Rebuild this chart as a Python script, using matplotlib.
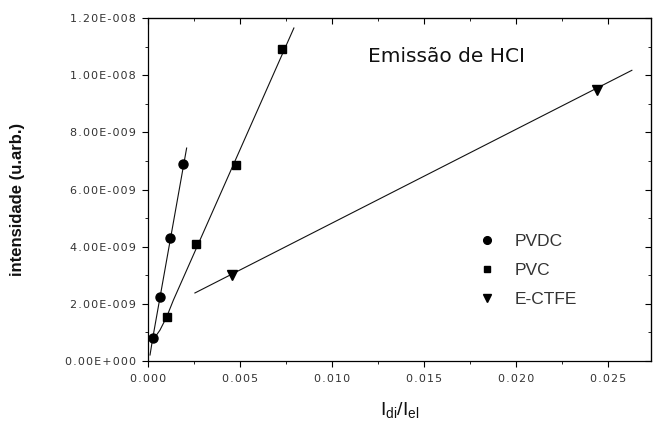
import matplotlib
matplotlib.use("Agg")
import matplotlib.pyplot as plt
from matplotlib.ticker import MultipleLocator
import numpy as np

# ---- data ----
pvdc_x = [0.00026, 0.00064, 0.00121, 0.00190]
pvdc_y = [0.81e-9, 2.23e-9, 4.31e-9, 6.89e-9]

pvc_x = [0.00102, 0.00260, 0.00478, 0.00730]
pvc_y = [1.55e-9, 4.10e-9, 6.84e-9, 10.90e-9]

ectfe_x = [0.00455, 0.02440]
ectfe_y = [3.00e-9, 9.47e-9]

# fitted guide curves
pvdc_fit_x = [0.00011, 0.00026, 0.00210]
pvdc_fit_y = [0.21e-9, 0.81e-9, 7.45e-9]
pvc_fit_x = [0.00027, 0.00065, 0.00102, 0.00138, 0.00793]
pvc_fit_y = [0.73e-9, 1.08e-9, 1.55e-9, 2.13e-9, 11.65e-9]
ectfe_fit_x = [0.00255, 0.02630]
ectfe_fit_y = [2.38e-9, 10.17e-9]

yticks = [0, 2e-9, 4e-9, 6e-9, 8e-9, 1.0e-8, 1.2e-8]
ytick_labels = ["0.00E+000", "2.00E-009", "4.00E-009", "6.00E-009",
                "8.00E-009", "1.00E-008", "1.20E-008"]
xticks = [0.000, 0.005, 0.010, 0.015, 0.020, 0.025]
xtick_labels = ["0.000", "0.005", "0.010", "0.015", "0.020", "0.025"]

labels = ["PVDC", "PVC", "E-CTFE"]
title_text = "Emissão de HCI"


def spaced(s):
    return "\u200a".join(s)


# ---- figure ----
fig = plt.figure(figsize=(6.53, 4.21), dpi=100)
ax = fig.add_axes([148/653, 1-361/421, (651-148)/653, (361-18)/421])

lc = "#111111"
ax.plot(pvdc_fit_x, pvdc_fit_y, color=lc, lw=0.8)
ax.plot(pvc_fit_x, pvc_fit_y, color=lc, lw=0.8)
ax.plot(ectfe_fit_x, ectfe_fit_y, color=lc, lw=0.8)

h1, = ax.plot(pvdc_x, pvdc_y, 'o', color='black', ms=6.5, ls='none', label=labels[0])
h2, = ax.plot(pvc_x, pvc_y, 's', color='black', ms=5.5, ls='none', label=labels[1])
h3, = ax.plot(ectfe_x, ectfe_y, 'v', color='black', ms=7, ls='none', label=labels[2])

ax.set_xlim(0, 0.02734)
ax.set_ylim(0, 1.2e-8)

ax.set_xticks(xticks)
ax.set_xticklabels([spaced(t) for t in xtick_labels])
ax.set_yticks(yticks)
ax.set_yticklabels([spaced(t) for t in ytick_labels])
ax.xaxis.set_minor_locator(MultipleLocator(0.0025))
ax.yaxis.set_minor_locator(MultipleLocator(1e-9))

tc = "#333333"
ax.tick_params(axis='both', which='major', direction='out', length=4.5, width=0.8,
               labelsize=8, labelcolor=tc, pad=4)
ax.tick_params(axis='both', which='minor', direction='out', length=2.5, width=0.6)
ax.tick_params(axis='x', pad=5)
for lab in ax.get_xticklabels() + ax.get_yticklabels():
    lab.set_fontfamily('DejaVu Sans')

for s in ax.spines.values():
    s.set_linewidth(0.9)

# mirrored inward ticks on top and right
top = ax.secondary_xaxis('top')
top.set_xticks(xticks)
top.xaxis.set_minor_locator(MultipleLocator(0.0025))
top.tick_params(which='major', direction='in', length=4.5, width=0.8, labeltop=False)
top.tick_params(which='minor', direction='in', length=2.5, width=0.6)
right = ax.secondary_yaxis('right')
right.set_yticks(yticks)
right.yaxis.set_minor_locator(MultipleLocator(1e-9))
right.tick_params(which='major', direction='in', length=4.5, width=0.8, labelright=False)
right.tick_params(which='minor', direction='in', length=2.5, width=0.6)

ax.text(0.0162, 1.067e-8, title_text, fontsize=14.5, fontfamily='DejaVu Sans',
        color='#111111', ha='center', va='center')

ax.set_ylabel("intensidade (u.arb.)", fontsize=12, fontweight='bold',
              fontfamily='Liberation Sans', color='#111111')
ax.yaxis.set_label_coords(-0.245, 0.47)
ax.set_xlabel(r"$\mathregular{I_{di}/I_{el}}$", fontsize=14,
              fontfamily='Liberation Sans', color='#111111')
ax.xaxis.set_label_coords(0.5, -0.115)

leg = ax.legend(handles=[h1, h2, h3], loc='upper left',
                bbox_to_anchor=(0.64, 0.39), frameon=False,
                prop={'family': 'Liberation Sans', 'size': 12.5},
                labelcolor='#333333', handlelength=1.2, handletextpad=0.95,
                labelspacing=0.8, markerscale=0.85, borderaxespad=0)

fig.savefig("out.png", dpi=100)
